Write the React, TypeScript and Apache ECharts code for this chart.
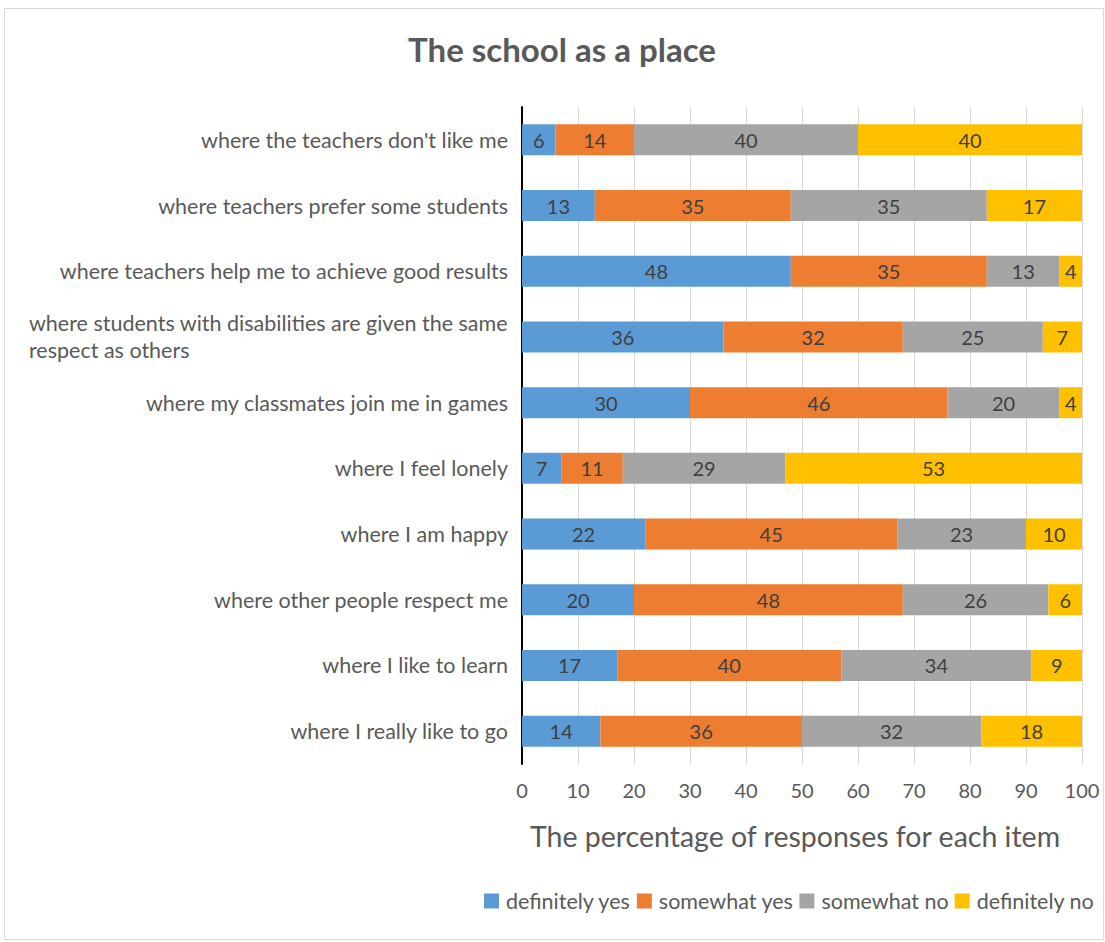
import React, { useEffect, useRef } from "react";
import * as echarts from "echarts";

const categories = [
  "where the teachers don't like me",
  "where teachers prefer some students",
  "where teachers help me to achieve good results",
  "where students with disabilities are given the same\nrespect as others",
  "where my classmates join me in games",
  "where I feel lonely",
  "where I am happy",
  "where other people respect me",
  "where I like to learn",
  "where I really like to go",
];

const seriesNames = ["definitely yes", "somewhat yes", "somewhat no", "definitely no"];
const definitelyYes = [6, 13, 48, 36, 30, 7, 22, 20, 17, 14];
const somewhatYes = [14, 35, 35, 32, 46, 11, 45, 48, 40, 36];
const somewhatNo = [40, 35, 13, 25, 20, 29, 23, 26, 34, 32];
const definitelyNo = [40, 17, 4, 7, 4, 53, 10, 6, 9, 18];
const xTicks = [0, 10, 20, 30, 40, 50, 60, 70, 80, 90, 100];

const colors = ["#5B9BD5", "#ED7D31", "#A5A5A5", "#FFC000"];
const FONT = "Lato, 'Open Sans', sans-serif";

export default function App() {
  const ref = useRef<HTMLDivElement>(null);
  useEffect(() => {
    document.body.style.margin = "0";
    const chart = echarts.init(ref.current!, null, { renderer: "svg" });
    const values = [definitelyYes, somewhatYes, somewhatNo, definitelyNo];
    chart.setOption({
      animation: false,
      backgroundColor: "#ffffff",
      textStyle: { fontFamily: FONT },
      title: {
        text: "The school as a place",
        left: 557,
        textAlign: "center",
        top: 27,
        textStyle: { fontFamily: FONT, fontSize: 33, fontWeight: "bold", color: "#595959" },
      },
      graphic: [
        {
          type: "rect",
          shape: { x: 4.5, y: 8.5, width: 1099, height: 931 },
          style: { fill: "none", stroke: "#d9d9d9", lineWidth: 1 },
          silent: true,
          z: -1,
        },
      ],
      legend: {
        left: 484,
        top: 890,
        padding: 0,
        itemWidth: 15,
        itemHeight: 15,
        itemGap: 6,
        icon: "rect",
        data: seriesNames,
        textStyle: { fontFamily: FONT, fontSize: 21.5, color: "#595959", padding: [0, 0, 0, 2] },
      },
      grid: { left: 522, right: 23, top: 107, bottom: 178, containLabel: false },
      xAxis: {
        type: "value",
        min: 0,
        max: 100,
        interval: 10,
        name: "The percentage of responses for each item",
        nameLocation: "middle",
        nameGap: 57,
        nameTextStyle: { fontFamily: FONT, fontSize: 28.5, color: "#595959", padding: [0, 14, 0, 0] },
        axisLine: { show: false },
        axisTick: { show: false },
        axisLabel: {
          fontFamily: FONT,
          fontSize: 20,
          color: "#595959",
          margin: 16,
          formatter: (v: number) => (xTicks.includes(v) ? String(v) : ""),
        },
        splitLine: { show: true, lineStyle: { color: "#d9d9d9", width: 1 } },
      },
      yAxis: {
        type: "category",
        inverse: true,
        data: categories,
        axisLine: { show: true, lineStyle: { color: "#000000", width: 2 } },
        axisTick: { show: false },
        axisLabel: {
          fontFamily: FONT,
          fontSize: 21.5,
          color: "#595959",
          margin: 14,
          lineHeight: 27,
          formatter: (v: string) =>
            v.includes("\n") ? v.split("\n").map((l) => "{l|" + l + "}").join("\n") : v,
          rich: {
            l: { align: "left", fontFamily: FONT, fontSize: 21.5, color: "#595959", lineHeight: 27 },
          },
        },
      },
      series: seriesNames.map((name, i) => ({
        name,
        type: "bar",
        stack: "total",
        barWidth: 31,
        data: values[i],
        itemStyle: { color: colors[i] },
        label: {
          show: true,
          position: "inside",
          fontFamily: FONT,
          fontSize: 20,
          color: "#404040",
        },
      })),
    });
    return () => chart.dispose();
  }, []);
  return <div ref={ref} style={{ width: 1105, height: 942 }} />;
}
